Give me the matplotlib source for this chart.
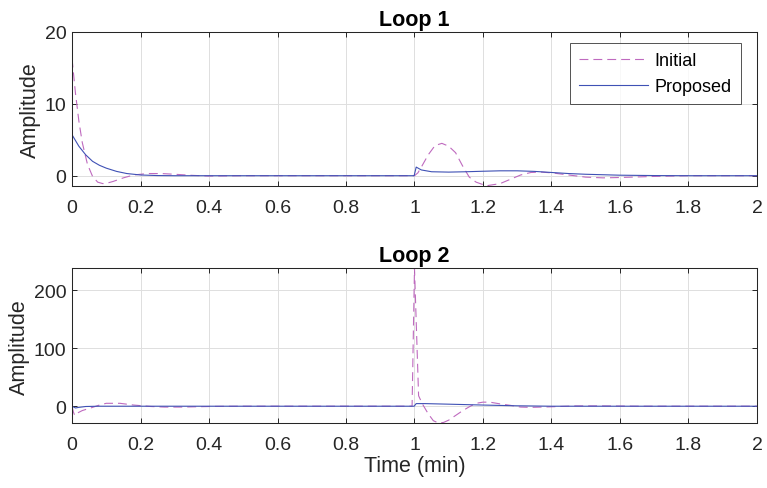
import matplotlib
matplotlib.use("Agg")
import matplotlib.pyplot as plt
from matplotlib.ticker import FuncFormatter

plt.rcParams["font.family"] = ["Liberation Sans", "DejaVu Sans"]

# ---- Loop 1 ----
t1_init = [0, 0.01, 0.02, 0.03, 0.045, 0.06, 0.075, 0.09, 0.105, 0.12, 0.15, 0.18,
           0.22, 0.26, 0.3, 0.35, 0.4, 0.5, 0.6, 0.8, 0.99, 1.0, 1.01, 1.02, 1.04,
           1.06, 1.08, 1.10, 1.12, 1.14, 1.16, 1.18, 1.21, 1.25, 1.28, 1.31, 1.34,
           1.37, 1.4, 1.45, 1.5, 1.55, 1.6, 1.7, 1.8, 2.0]
y1_init = [16.3, 11.5, 7.6, 4.6, 1.6, -0.1, -0.9, -1.1, -1.0, -0.8, -0.3, 0.1,
           0.3, 0.3, 0.2, 0.05, -0.05, 0, 0, 0, 0, 0, 0.4, 1.2, 2.9,
           4.2, 4.5, 4.1, 3.2, 1.4, -0.2, -0.9, -1.4, -1.1, -0.5, 0.1, 0.45,
           0.5, 0.4, 0.1, -0.2, -0.3, -0.25, -0.1, 0, 0]

t1_prop = [0, 0.02, 0.04, 0.06, 0.08, 0.1, 0.13, 0.16, 0.2, 0.25, 0.3, 0.5, 0.8,
           0.999, 1.005, 1.02, 1.05, 1.1, 1.15, 1.2, 1.25, 1.3, 1.35, 1.4, 1.45,
           1.5, 1.6, 1.7, 1.8, 2.0]
y1_prop = [5.7, 4.1, 2.9, 2.0, 1.45, 1.05, 0.6, 0.3, 0.1, 0.02, 0, 0, 0,
           0, 1.2, 0.8, 0.55, 0.5, 0.55, 0.62, 0.68, 0.68, 0.6, 0.45, 0.3,
           0.2, 0.07, 0.02, 0, 0]

# ---- Loop 2 ----
t2_init = [0, 0.004, 0.008, 0.015, 0.03, 0.06, 0.08, 0.1, 0.14, 0.18, 0.23, 0.27,
           0.32, 0.36, 0.42, 0.5, 0.8, 0.993, 1.0, 1.012, 1.023, 1.04, 1.055, 1.07,
           1.085, 1.1, 1.12, 1.14, 1.16, 1.18, 1.2, 1.22, 1.25, 1.28, 1.31, 1.34,
           1.4, 1.47, 1.55, 1.65, 1.8, 2.0]
y2_init = [0, -10, -16, -12, -7.5, -2, 2, 5, 5, 2, -0.5, -1.5,
           -1.5, -1, -0.3, 0, 0, 0, 238, 18, 4, -13, -25, -29,
           -28, -24, -16, -8, -1, 5, 7, 7, 4, 1.5, -1.5, -2,
           -1, 0.5, 0.5, 0, 0, 0]

t2_prop = [0, 0.01, 0.02, 0.04, 0.08, 0.999, 1.005, 1.03, 1.1, 1.2, 1.3, 1.4, 2.0]
y2_prop = [0, -3, -2, -0.5, 0, 0, 4.5, 4.5, 3.5, 2, 0.7, 0, 0]

x_ticks = [0, 0.2, 0.4, 0.6, 0.8, 1.0, 1.2, 1.4, 1.6, 1.8, 2.0]

C_INIT = "#bf6abf"
C_PROP = "#3f51b5"
TXT = "#262626"
FS = 14          # tick labels
FS_LAB = 15.5    # axis labels / titles
FS_LEG = 13


def style_axes(ax, ylim, yticks, title):
    ax.set_xlim(0, 2)
    ax.set_ylim(*ylim)
    ax.set_xticks(x_ticks)
    ax.set_yticks(yticks)
    ax.xaxis.set_major_formatter(FuncFormatter(lambda v, p: f"{v:g}"))
    ax.grid(True, color="#dedede", linewidth=0.7)
    ax.set_axisbelow(True)
    ax.tick_params(direction="in", length=3.5, width=0.7, top=True, right=True,
                   labelsize=FS, colors=TXT)
    ax.tick_params(axis="x", pad=9)
    ax.tick_params(axis="y", pad=4)
    for s in ax.spines.values():
        s.set_color(TXT)
        s.set_linewidth(0.75)
    ax.set_ylabel("Amplitude", fontsize=FS_LAB, color=TXT, labelpad=3)
    ax.set_title(title, fontsize=FS_LAB, fontweight="bold", color="black", pad=5)


fig = plt.figure(figsize=(7.67, 4.89), dpi=100)
ax1 = fig.add_axes([0.0939, 0.6166, 0.893, 0.316])
ax2 = fig.add_axes([0.0939, 0.1329, 0.893, 0.3164])

ax1.plot(t1_init, y1_init, color=C_INIT, linewidth=0.8, linestyle=(0, (8, 4.5)), label="Initial")
ax1.plot(t1_prop, y1_prop, color=C_PROP, linewidth=0.8, label="Proposed")
style_axes(ax1, (-1.5, 20), [0, 10, 20], "Loop 1")

leg = ax1.legend(loc="upper right", bbox_to_anchor=(741 / 767, 1 - 44.3 / 489),
                 bbox_transform=fig.transFigure, borderaxespad=0,
                 fontsize=FS_LEG, frameon=True, fancybox=False,
                 edgecolor=TXT, handlelength=3.8, handletextpad=0.4,
                 borderpad=0.5, labelspacing=0.48)
leg.get_frame().set_linewidth(0.7)
for txt in leg.get_texts():
    txt.set_color("black")

ax2.plot(t2_init, y2_init, color=C_INIT, linewidth=0.8, linestyle=(0, (8, 4.5)), label="Initial")
ax2.plot(t2_prop, y2_prop, color=C_PROP, linewidth=0.8, label="Proposed")
style_axes(ax2, (-29, 238), [0, 100, 200], "Loop 2")
ax2.set_xlabel("Time (min)", fontsize=FS_LAB, color=TXT, labelpad=2)

fig.savefig("out.png", dpi=100)
